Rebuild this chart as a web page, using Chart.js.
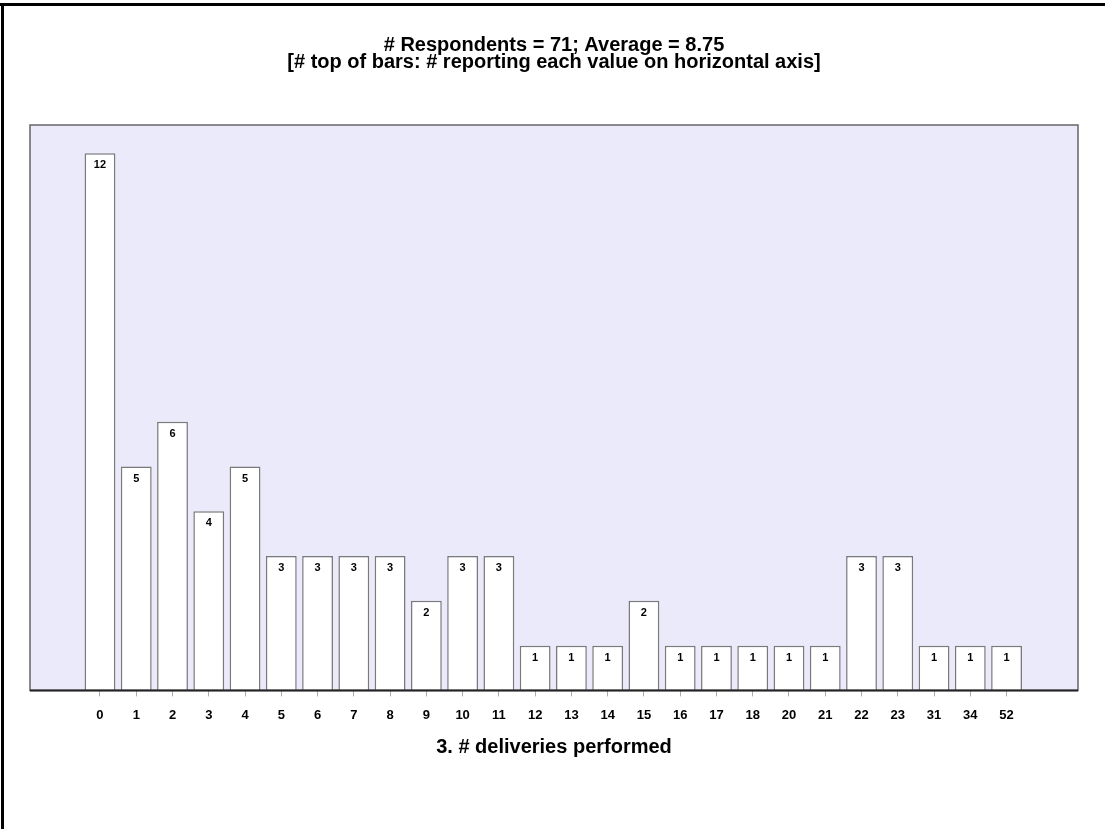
<!DOCTYPE html>
<html>
<head>
<meta charset="utf-8">
<script src="https://cdn.jsdelivr.net/npm/chart.js@4/dist/chart.umd.min.js"></script>
<style>
  body { margin: 0; background: #fff; }
  canvas { display: block; }
</style>
</head>
<body>
<canvas id="chart" width="1105" height="829"></canvas>
<script>
// values on the horizontal axis and how many respondents reported each
const deliveries = ['0', '1', '2', '3', '4', '5', '6', '7', '8', '9', '10', '11', '12', '13',
  '14', '15', '16', '17', '18', '20', '21', '22', '23', '31', '34', '52'];
const respondents = [12, 5, 6, 4, 5, 3, 3, 3, 3, 2, 3, 3, 1, 1, 1, 2, 1, 1, 1, 1, 1, 3, 3, 1, 1, 1];
const titleLines = ['# Respondents = 71; Average = 8.75',
  '[# top of bars: # reporting each value on horizontal axis]'];
const axisTitle = '3. # deliveries performed';

const FONT = '"Liberation Sans", Arial, sans-serif';

// lavender plot area, frame and the outer page border
const framePlugin = {
  id: 'frame',
  beforeDatasetsDraw(chart) {
    const { ctx, chartArea: a } = chart;
    ctx.save();
    ctx.fillStyle = '#eaeafa';
    ctx.fillRect(a.left, a.top, a.right - a.left, a.bottom - a.top);
    ctx.restore();
  },
  afterDatasetsDraw(chart) {
    const { ctx, chartArea: a } = chart;
    ctx.save();
    ctx.strokeStyle = '#666';
    ctx.lineWidth = 1.5;
    ctx.strokeRect(a.left, a.top, a.right - a.left, a.bottom - a.top);
    ctx.strokeStyle = '#222';
    ctx.lineWidth = 2;
    ctx.beginPath();
    ctx.moveTo(a.left, a.bottom);
    ctx.lineTo(a.right, a.bottom);
    ctx.stroke();

    // counts inside top of each bar
    ctx.fillStyle = '#000';
    ctx.font = 'bold 11px ' + FONT;
    ctx.textAlign = 'center';
    ctx.textBaseline = 'middle';
    chart.getDatasetMeta(0).data.forEach((bar, i) => {
      ctx.fillText(String(respondents[i]), bar.x, bar.y + 12);
    });

    // page border (top and left)
    ctx.fillStyle = '#000';
    ctx.fillRect(0, 3, chart.width, 3);
    ctx.fillRect(1, 3, 3, chart.height);
    ctx.restore();
  }
};

new Chart(document.getElementById('chart'), {
  type: 'bar',
  data: {
    datasets: [{
      data: respondents.map((v, i) => ({ x: i, y: v })),
      backgroundColor: '#ffffff',
      borderColor: '#7a7a7a',
      borderWidth: 1.5,
      borderSkipped: 'bottom',
      barPercentage: 0.85,
      categoryPercentage: 1
    }]
  },
  options: {
    responsive: false,
    animation: false,
    layout: { padding: { left: 30, right: 27, bottom: 70, top: 0 } },
    plugins: {
      legend: { display: false },
      tooltip: { enabled: false },
      title: {
        display: true,
        text: titleLines,
        color: '#000',
        font: { family: FONT, size: 20, weight: 'bold', lineHeight: 0.85 },
        padding: { top: 36.5, bottom: 54.5 }
      }
    },
    scales: {
      x: {
        type: 'linear',
        offset: false,
        min: -1.93,
        max: 26.97,
        afterBuildTicks(scale) {
          scale.ticks = deliveries.map((_, i) => ({ value: i }));
        },
        ticks: {
          autoSkip: false,
          maxRotation: 0,
          padding: 11,
          color: '#000',
          font: { family: FONT, size: 13, weight: 'bold' },
          callback: (v) => deliveries[v]
        },
        grid: { offset: false, drawOnChartArea: false, drawTicks: true, tickLength: 6, tickColor: '#aaa' },
        border: { display: false },
        title: {
          display: true,
          text: axisTitle,
          color: '#000',
          font: { family: FONT, size: 20, weight: 'bold' },
          padding: { top: 1, bottom: 0 }
        }
      },
      y: {
        display: false,
        min: 0,
        max: 12.63
      }
    }
  },
  plugins: [framePlugin]
});
</script>
</body>
</html>
